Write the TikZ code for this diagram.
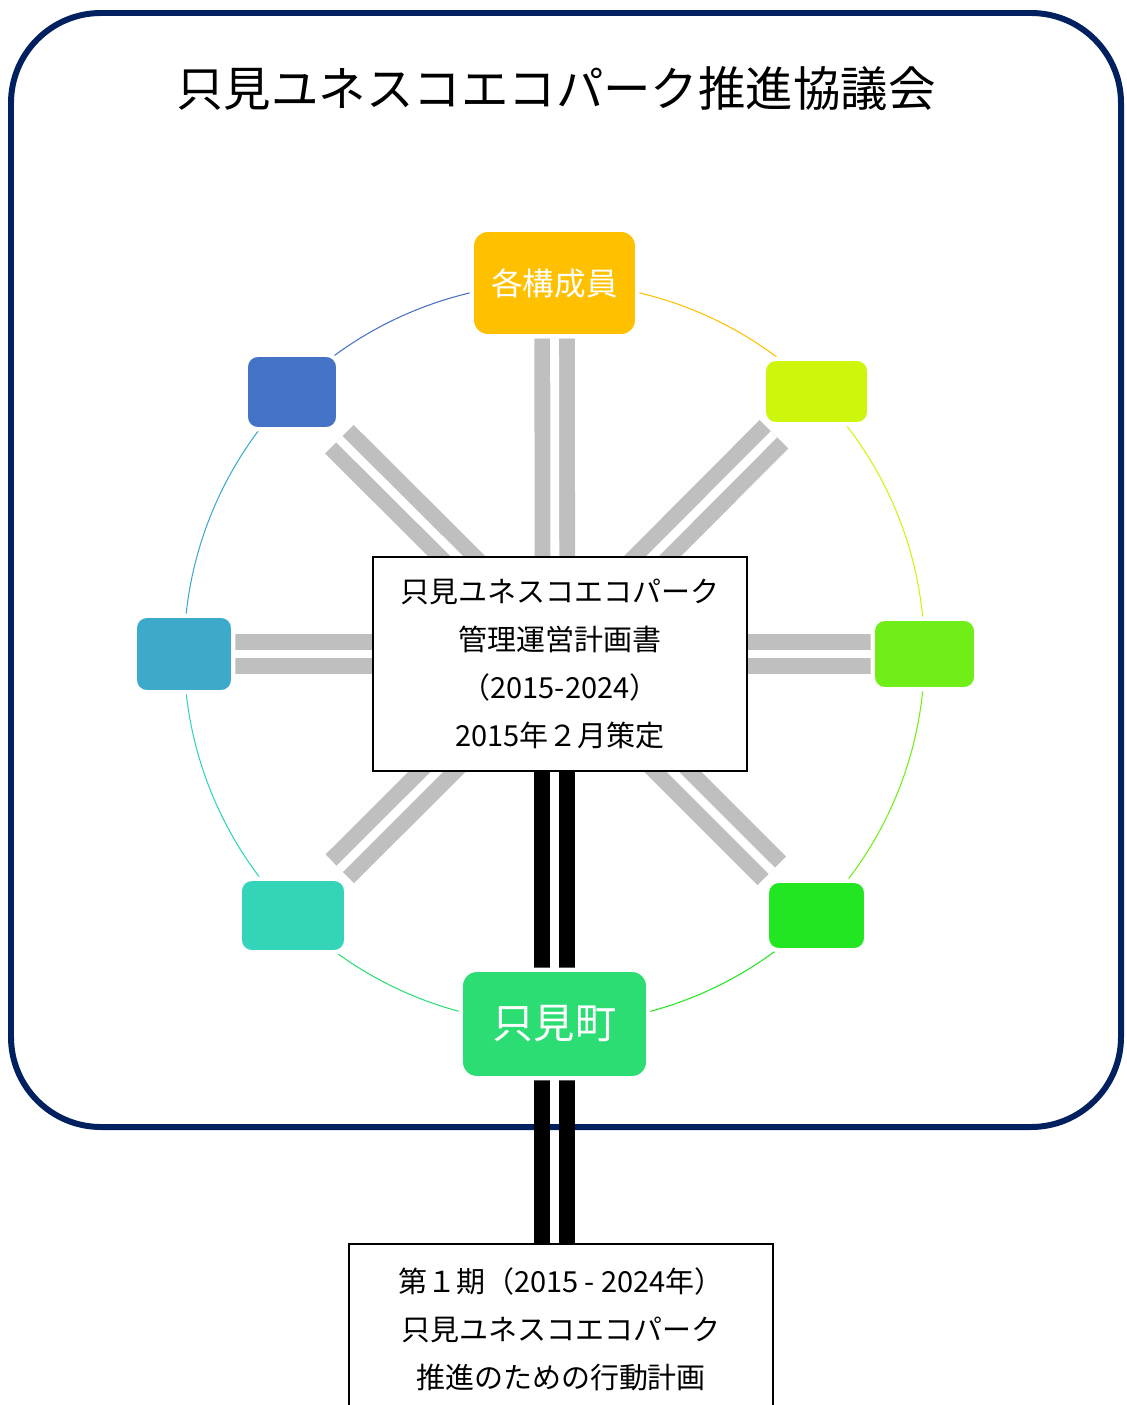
\documentclass[tikz,border=0pt]{standalone}
\usepackage{fontspec}
\setmainfont{Noto Sans CJK JP}
\usetikzlibrary{backgrounds}

\definecolor{frameBlue}{HTML}{002060}
\definecolor{barGray}{HTML}{BFBFBF}
\definecolor{memberGold}{HTML}{FFC000}
\definecolor{memberBlue}{HTML}{4472C4}
\definecolor{memberLime}{HTML}{CCF60C}
\definecolor{memberCyan}{HTML}{3DAACC}
\definecolor{memberGreen}{HTML}{70EE17}
\definecolor{memberTeal}{HTML}{33D4B8}
\definecolor{memberLeaf}{HTML}{22E622}
\definecolor{townGreen}{HTML}{2BDD73}

\tikzset{
  member/.style={rounded corners=2.4mm, draw=white, line width=2.5pt, inner sep=0pt},
  plate/.style={draw=black, line width=1.2pt, fill=white, align=center,
    font=\fontsize{16.5}{27.2}\selectfont},
  grayBar/.style={draw=barGray, line width=9pt, double=white, double distance=5pt},
  blackBar/.style={draw=black, line width=9.6pt},
  ring/.style={line width=0.6pt, bend left=22.5, looseness=0.885},
}

\begin{document}
\begin{tikzpicture}[x=0.2mm, y=0.2mm]
    \useasboundingbox (0,0) rectangle (1126,-1405);

    % Titolo
    \node[font=\fontsize{27}{30}\selectfont] (title) at (556,-89) {只見ユネスコエコパーク推進協議会};

    % Centro della ruota
    \coordinate (O) at (555,-654);

    % Piano di gestione
    \node[plate, minimum width=74.8mm, minimum height=42.8mm] (hub) at (560,-664)
        {只見ユネスコエコパーク\\管理運営計画書\\（2015-2024）\\2015年２月策定};

    % Membri
    \node[member, fill=memberGold, rounded corners=3.2mm, minimum width=33.1mm, minimum height=21.3mm,
        text=white, font=\fontsize{18}{20}\selectfont] (top) at (554.5,-283) {各構成員};
    \node[member, fill=memberBlue, minimum width=18.5mm, minimum height=14.9mm] (tl) at (292,-392) {};
    \node[member, fill=memberLime, minimum width=21.1mm, minimum height=13.1mm] (tr) at (816.5,-391.5) {};
    \node[member, fill=memberCyan, minimum width=19.7mm, minimum height=15.3mm] (l) at (184,-654) {};
    \node[member, fill=memberGreen, minimum width=20.7mm, minimum height=14.1mm] (r) at (924.5,-654) {};
    \node[member, fill=memberTeal, minimum width=21.3mm, minimum height=14.7mm] (bl) at (293,-915.5) {};
    \node[member, fill=memberLeaf, minimum width=19.9mm, minimum height=13.9mm] (br) at (816.5,-915.5) {};
    \node[member, fill=townGreen, rounded corners=3.2mm, minimum width=37.5mm, minimum height=21.7mm,
        text=white, font=\fontsize{23.5}{26}\selectfont] (town) at (554.5,-1024) {只見町};

    % Piano d'azione
    \node[plate, minimum width=84.8mm, minimum height=34mm, anchor=north] (plan) at (561,-1243)
        {第１期（2015 - 2024年）\\只見ユネスコエコパーク\\推進のための行動計画};

    \begin{scope}[on background layer]
        % Cornice
        \draw[frameBlue, line width=3.4pt, rounded corners=18mm] (11,-13) rectangle (1121,-1127);

        % Anello
        \draw[ring, memberBlue] (tl.center) to (top.center);
        \draw[ring, memberGold] (top.center) to (tr.center);
        \draw[ring, memberLime] (tr.center) to (r.center);
        \draw[ring, memberGreen] (r.center) to (br.center);
        \draw[ring, memberLeaf] (br.center) to (town.center);
        \draw[ring, townGreen] (town.center) to (bl.center);
        \draw[ring, memberTeal] (bl.center) to (l.center);
        \draw[ring, memberCyan] (l.center) to (tl.center);

        % Raggi
        \draw[grayBar] (O) -- (top);
        \draw[grayBar] (O) -- (l);
        \draw[grayBar] (O) -- (r);
        \draw[grayBar, shorten >=2.2mm] (O) -- (tl);
        \draw[grayBar, shorten >=2.2mm] (O) -- (tr);
        \draw[grayBar, shorten >=2.2mm] (O) -- (bl);
        \draw[grayBar, shorten >=2.2mm] (O) -- (br);

        % Collegamenti verso il basso
        \draw[blackBar] ([xshift=-2.5mm]town.center) -- ([xshift=-2.5mm]town.center |- hub.center);
        \draw[blackBar] ([xshift=2.5mm]town.center) -- ([xshift=2.5mm]town.center |- hub.center);
        \draw[blackBar] ([xshift=-2.5mm]town.center) -- ([xshift=-2.5mm]town.center |- plan.center);
        \draw[blackBar] ([xshift=2.5mm]town.center) -- ([xshift=2.5mm]town.center |- plan.center);
    \end{scope}
\end{tikzpicture}
\end{document}
